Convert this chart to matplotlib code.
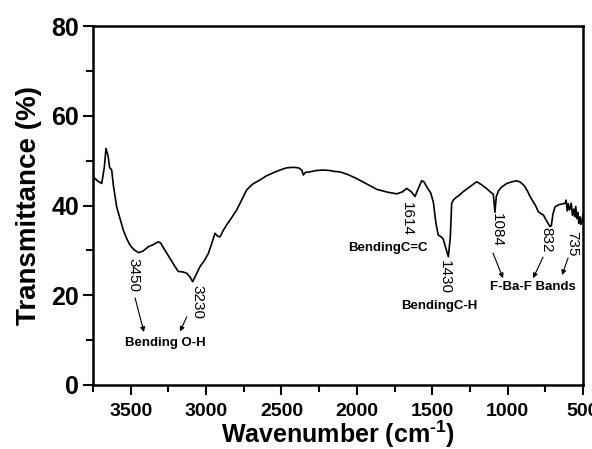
import matplotlib
matplotlib.use("Agg")
import matplotlib.pyplot as plt
from matplotlib.ticker import MultipleLocator

plt.rcParams["font.family"] = ["Liberation Sans", "DejaVu Sans"]
plt.rcParams["mathtext.fontset"] = "custom"
plt.rcParams["mathtext.rm"] = "Liberation Sans"
plt.rcParams["mathtext.bf"] = "Liberation Sans:bold"

# FTIR spectrum (wavenumber cm-1, transmittance %)
wavenumber = [
    3750, 3720, 3692, 3675, 3664, 3650, 3640, 3626, 3615, 3593, 3570, 3549,
    3525, 3505, 3480, 3449, 3420, 3383, 3350, 3317, 3300, 3294, 3265, 3239,
    3210, 3184, 3155, 3128, 3105, 3089, 3070, 3040, 3010, 2985, 2960, 2941,
    2925, 2908, 2885, 2863, 2830, 2797, 2760, 2730, 2690, 2642, 2600, 2554,
    2510, 2465, 2420, 2388, 2365, 2355, 2340, 2311, 2270, 2222, 2180, 2150,
    2112, 2060, 2001, 1940, 1868, 1800, 1736, 1700, 1669, 1640, 1614, 1590,
    1570, 1555, 1537, 1510, 1493, 1475, 1460, 1440, 1427, 1410, 1393, 1380,
    1371, 1360, 1349, 1320, 1294, 1250, 1205, 1190, 1172, 1140, 1117, 1095,
    1084, 1075, 1060, 1040, 1006, 970, 940, 915, 896, 885, 865, 851,
    830, 815, 796, 780, 763, 740, 719, 710, 700, 686, 660, 640,
    619, 612, 605, 598, 590, 586, 578, 570, 562, 555, 548, 542,
    535, 528, 520, 515, 508, 500,
]
transmittance = [
    46.4, 45.5, 44.9, 48.5, 52.7, 51.0, 48.5, 47.9, 44.5, 39.7, 37.0, 34.5,
    32.5, 31.2, 30.2, 29.5, 29.8, 30.8, 31.3, 31.9, 31.6, 31.2, 29.6, 28.2,
    26.6, 25.3, 25.2, 24.9, 24.0, 23.0, 24.3, 26.4, 27.8, 29.3, 31.8, 33.8,
    33.2, 33.0, 34.5, 35.7, 37.3, 39.0, 41.5, 43.5, 44.8, 45.7, 46.6, 47.3,
    47.9, 48.4, 48.5, 48.4, 47.9, 46.8, 47.4, 47.5, 47.8, 47.9, 47.8, 47.6,
    47.5, 46.9, 46.0, 44.9, 43.6, 43.0, 42.6, 43.0, 43.8, 43.1, 42.0, 44.0,
    45.5, 45.3, 44.2, 42.8, 40.8, 36.0, 33.4, 33.0, 32.5, 30.5, 28.6, 33.0,
    40.5, 41.2, 41.6, 42.3, 43.1, 44.2, 45.3, 45.0, 44.6, 43.8, 43.1, 42.5,
    38.5, 42.0, 43.3, 44.1, 44.9, 45.3, 45.5, 45.2, 44.6, 44.2, 43.0, 42.0,
    40.8, 40.0, 38.6, 38.2, 37.9, 36.5, 35.3, 35.5, 38.0, 39.7, 40.2, 40.3,
    40.5, 41.2, 38.8, 40.4, 39.0, 39.3, 40.5, 37.8, 39.2, 37.5, 39.8, 37.1,
    38.5, 36.0, 37.5, 35.8, 36.4, 38.0,
]

# peak labels: text, (x, y) of the label
peak_labels = ["3450", "3230", "1614", "1430", "1084", "832", "735"]
peak_label_pos = [(3485, 24.5), (3060, 18.5), (1667, 37.0), (1415, 24.0),
                  (1072, 34.5), (745, 32.3), (573, 31.6)]

group_labels = ["Bending O-H", "BendingC=C", "BendingC-H", "F-Ba-F Bands"]
group_label_pos = [(3269, 9.4), (1793, 30.5), (1455, 17.6), (835, 21.9)]

# arrows: (start, end)
arrows = [
    ((3471, 19.4), (3412, 11.8)),
    ((3128, 15.2), (3173, 11.9)),
    ((1097, 29.4), (1030, 23.8)),
    ((765, 28.5), (831, 23.8)),
    ((599, 28.3), (639, 24.5)),
]

fig = plt.figure(figsize=(5.92, 4.49), dpi=100)
ax = fig.add_axes([93 / 592, 1 - 385 / 449, 490 / 592, 359 / 449])

ax.plot(wavenumber, transmittance, color="black", linewidth=1.2)

for txt, (x, y) in zip(peak_labels, peak_label_pos):
    ax.text(x, y, txt, rotation=270, ha="center", va="center", fontsize=11)

for txt, (x, y) in zip(group_labels, group_label_pos):
    ax.text(x, y, txt, ha="center", va="center", fontsize=9.5, fontweight="bold")

for start, end in arrows:
    ax.annotate("", xy=end, xytext=start,
                arrowprops=dict(arrowstyle="-|>", color="black", lw=0.8,
                                mutation_scale=7, shrinkA=0, shrinkB=0))

ax.set_xlim(3750, 500)
ax.set_ylim(0, 80)
ax.xaxis.set_major_locator(MultipleLocator(500))
ax.xaxis.set_minor_locator(MultipleLocator(250))
ax.yaxis.set_major_locator(MultipleLocator(20))
ax.yaxis.set_minor_locator(MultipleLocator(10))

for s in ax.spines.values():
    s.set_linewidth(1.8)

ax.tick_params(which="both", direction="out", width=1.5, top=False, right=False)
ax.tick_params(which="major", length=7)
ax.tick_params(which="minor", length=5)
ax.tick_params(axis="x", labelsize=14, pad=6)
ax.tick_params(axis="y", labelsize=18, pad=3)
for lab in ax.get_xticklabels() + ax.get_yticklabels():
    lab.set_fontweight("bold")

ax.set_ylabel("Transmittance (%)", fontsize=20, fontweight="bold")
ax.yaxis.set_label_coords(-0.104, 0.5)
fig.text(0.5 * (93 + 583) / 592, 1 - 443 / 449, "Wavenumber (cm$^{\\mathbf{\u20101}}$)",
         ha="center", va="baseline", fontsize=18, fontweight="bold")

fig.savefig("out.png", dpi=100)
